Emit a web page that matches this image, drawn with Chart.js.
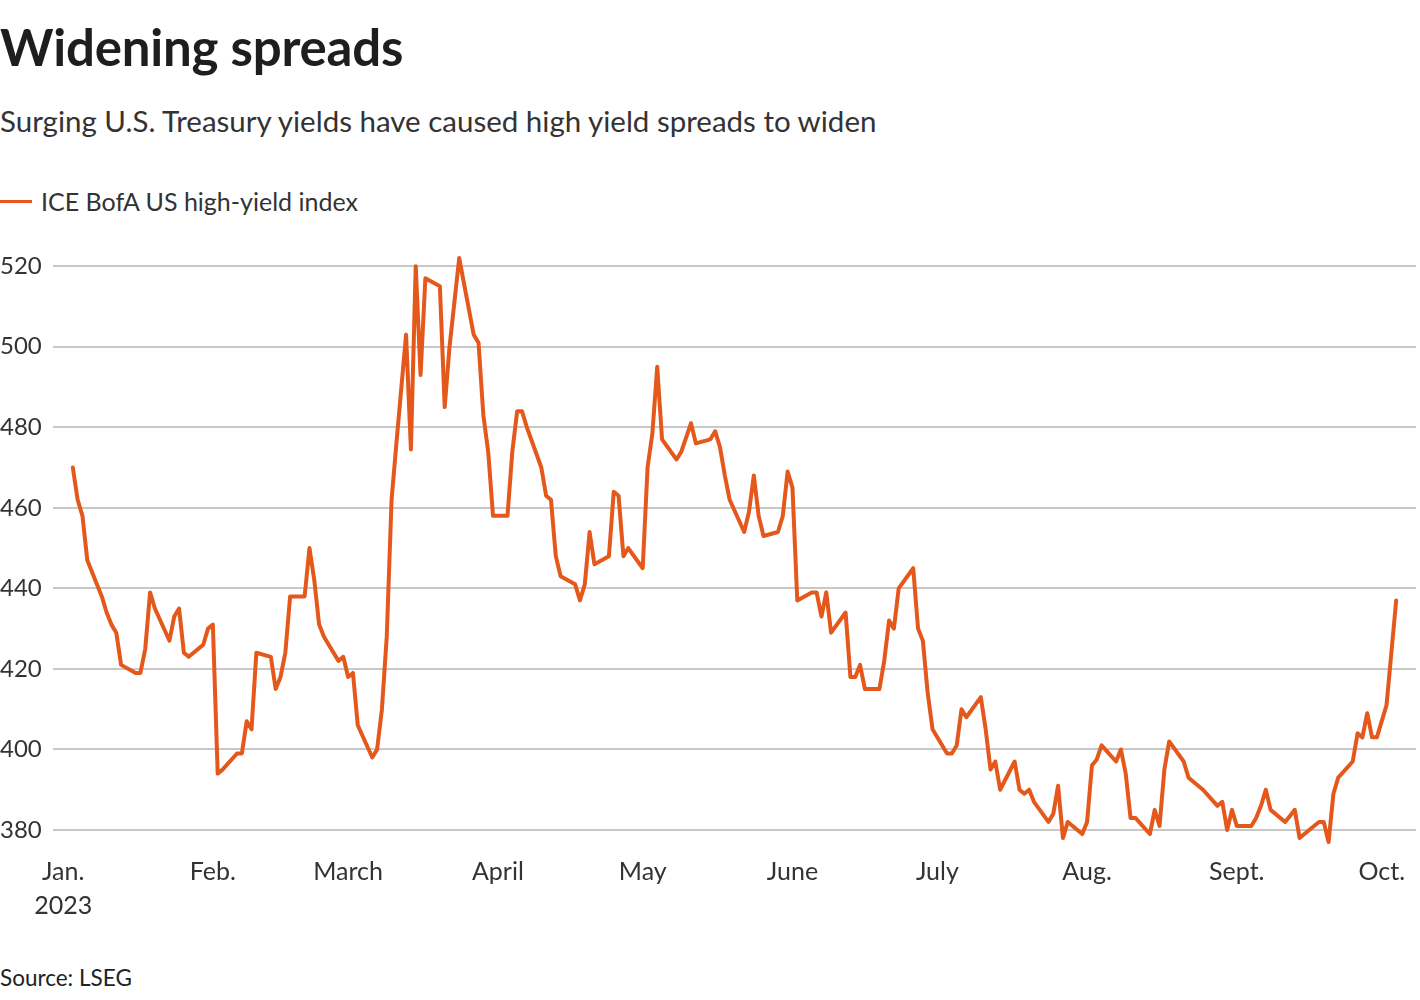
<!DOCTYPE html>
<html>
<head>
<meta charset="utf-8">
<script src="https://cdn.jsdelivr.net/npm/chart.js@4/dist/chart.umd.min.js"></script>
<style>
  html, body { margin: 0; padding: 0; background: #fff; }
  body { width: 1420px; height: 1000px; position: relative; overflow: hidden; font-family: Lato, "Noto Sans", sans-serif; color: #222; }
  .t { position: absolute; left: 0; white-space: nowrap; line-height: 1; }
  #title { top: 21px; font-size: 51px; font-weight: 700; color: #1e1e1e; letter-spacing: -0.2px; }
  #subtitle { top: 106px; font-size: 29.5px; font-weight: 400; color: #333; }
  #legend { top: 189px; font-size: 25px; color: #333; }
  #legend .sw { display: inline-block; width: 32px; height: 3.5px; background: #e4581b; vertical-align: middle; margin-right: 9px; position: relative; top: -3px; }
  #source { top: 967px; font-size: 22.5px; color: #222; }
  #wrap { position: absolute; left: 0; top: 230px; width: 1420px; height: 700px; }
</style>
</head>
<body>
<div class="t" id="title">Widening spreads</div>
<div class="t" id="subtitle">Surging U.S. Treasury yields have caused high yield spreads to widen</div>
<div class="t" id="legend"><span class="sw"></span>ICE BofA US high-yield index</div>
<div class="t" id="source">Source: LSEG</div>
<div id="wrap"><canvas id="c"></canvas></div>
<script>
// ---- data (2023) ----
const seriesName = "ICE BofA US high-yield index";
const dates = [
  "01-03","01-04","01-05","01-06","01-09","01-10","01-11","01-12","01-13","01-16","01-17","01-18","01-19","01-20",
  "01-23","01-24","01-25","01-26","01-27","01-30","01-31","02-01","02-02","02-03","02-06","02-07","02-08","02-09","02-10",
  "02-13","02-14","02-15","02-16","02-17","02-20","02-21","02-22","02-23","02-24","02-27","02-28","03-01","03-02","03-03",
  "03-06","03-07","03-08","03-09","03-10","03-11","03-13","03-14","03-15","03-16","03-17","03-20","03-21","03-22","03-23","03-24",
  "03-27","03-28","03-29","03-30","03-31","04-03","04-04","04-05","04-06","04-07","04-10","04-11","04-12","04-13","04-14",
  "04-17","04-18","04-19","04-20","04-21","04-24","04-25","04-26","04-27","04-28","05-01","05-02","05-03","05-04","05-05",
  "05-08","05-09","05-10","05-11","05-12","05-15","05-16","05-17","05-18","05-19","05-22","05-23","05-24","05-25","05-26",
  "05-29","05-30","05-31","06-01","06-02","06-05","06-06","06-07","06-08","06-09","06-12","06-13","06-14","06-15","06-16",
  "06-19","06-20","06-21","06-22","06-23","06-26","06-27","06-28","06-29","06-30","07-03","07-04","07-05","07-06","07-07",
  "07-10","07-11","07-12","07-13","07-14","07-17","07-18","07-19","07-20","07-21","07-24","07-25","07-26","07-27","07-28",
  "07-31","08-01","08-02","08-03","08-04","08-07","08-08","08-09","08-10","08-11","08-14","08-15","08-16","08-17","08-18",
  "08-21","08-22","08-23","08-24","08-25","08-28","08-29","08-30","08-31","09-01","09-04","09-05","09-06","09-07","09-08",
  "09-11","09-12","09-13","09-14","09-15","09-18","09-19","09-20","09-21","09-22","09-25","09-26","09-27","09-28","09-29","09-30",
  "10-02","10-03","10-04"
];
const spreads = [
  470,462,458,447,438,434,431,429,421,419,419,425,439,435,
  427,433,435,424,423,426,430,431,394,395,399,399,407,405,424,
  423,415,418,424,438,438,450,442,431,428,422,423,418,419,406,
  398,400,410,428,462,476,503,474.5,520,493,517,515,485,500,511,522,
  503,501,483,474,458,458,474,484,484,480,470,463,462,448,443,
  441,437,441,454,446,448,464,463,448,450,445,470,478.5,495,477,
  472,474,477.5,481,476,477,479,475,468,462,454,459,468,458,453,
  454,458,469,465,437,439,439,433,439,429,434,418,418,421,415,
  415,422,432,430,440,445,430,427,414,405,399,399,401,410,408,
  413,405,395,397,390,397,390,389,390,387,382,384,391,378,382,
  379,382,396,397.5,401,397,400,394,383,383,379,385,381,395,402,
  397,393,392,391,390,386,387,380,385,381,381,383,386,390,385,
  382,383.5,385,378,379,382,382,377,389,393,397,404,403,409,403,403,
  411,424,437
];
const monthStarts = ["01-01","02-01","03-01","04-01","05-01","06-01","07-01","08-01","09-01","10-01"];
const monthLabels = [["Jan.","2023"],"Feb.","March","April","May","June","July","Aug.","Sept.","Oct."];
const yTicks = [380,400,420,440,460,480,500,520];

const dayOf = s => { const [m,d] = s.split("-").map(Number); return (Date.UTC(2023,m-1,d) - Date.UTC(2023,0,1)) / 86400000; };
const points = dates.map((s,i) => ({ x: dayOf(s), y: spreads[i] }));
const monthDays = monthStarts.map(dayOf);

const tickColor = "#333";
new Chart(document.getElementById("c"), {
  type: "line",
  data: { datasets: [{ label: seriesName, data: points, borderColor: "#e4581b", borderWidth: 4,
    pointRadius: 0, tension: 0, clip: false, borderJoinStyle: "round", borderCapStyle: "round" }] },
  options: {
    responsive: true, maintainAspectRatio: false, animation: false,
    layout: { padding: { top: 12, right: 4, left: 0, bottom: 0 } },
    plugins: { legend: { display: false }, tooltip: { enabled: false } },
    scales: {
      x: {
        type: "linear", min: -2.1, max: 280.1,
        grid: { display: false, drawTicks: false }, border: { display: false },
        afterBuildTicks: ax => { ax.ticks = monthDays.map(v => ({ value: v })); },
        afterFit: ax => { ax.height = 100; ax.paddingLeft = 0; ax.paddingRight = 0; },
        ticks: { autoSkip: false, maxRotation: 0, padding: 25, color: tickColor,
          font: { family: "Lato", size: 25, lineHeight: 1.35 },
          callback: (v, i) => monthLabels[i] }
      },
      y: {
        min: 380, max: 526,
        grid: { color: "#c8c8c8", lineWidth: 2, drawTicks: false }, border: { display: false },
        afterBuildTicks: ax => { ax.ticks = yTicks.map(v => ({ value: v })); },
        afterFit: ax => { ax.width = 53; ax.paddingTop = 0; ax.paddingBottom = 0; },
        ticks: { crossAlign: "far", padding: 0, color: tickColor, font: { family: "Lato", size: 24 } }
      }
    }
  }
});
</script>
</body>
</html>
